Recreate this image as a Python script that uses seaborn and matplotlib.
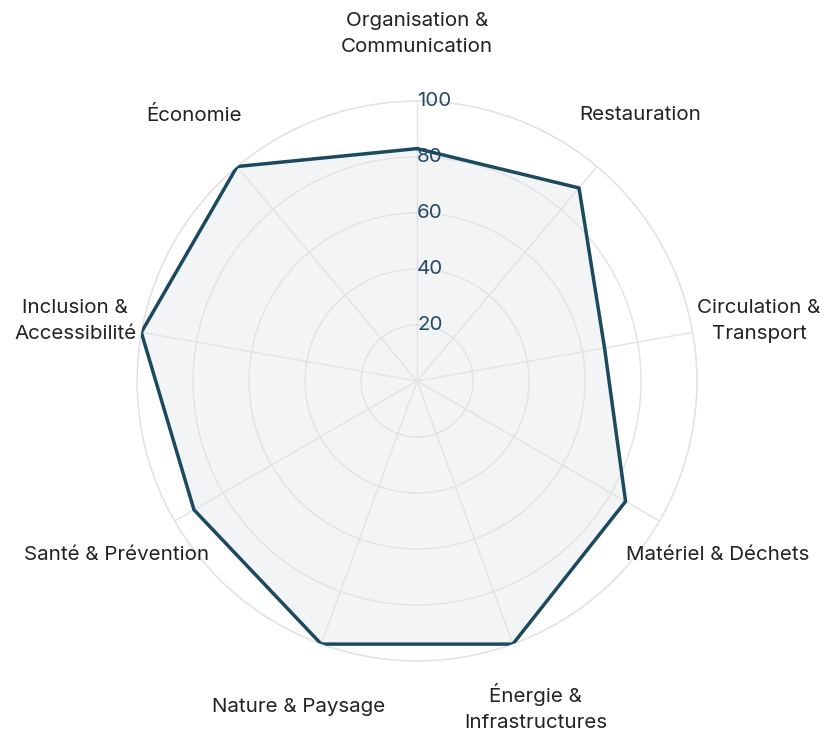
import numpy as np
import matplotlib
matplotlib.use("Agg")
import matplotlib.pyplot as plt
import seaborn as sns

categories = [
    "Organisation &\nCommunication",
    "Restauration",
    "Circulation &\nTransport",
    "Matériel & Déchets",
    "Énergie &\nInfrastructures",
    "Nature & Paysage",
    "Santé & Prévention",
    "Inclusion &\nAccessibilité",
    "Économie",
]
scores = [83, 90, 68, 86, 100, 100, 92, 100, 100]
radial_ticks = [20, 40, 60, 80, 100]

line_colour = "#1b4a5f"
fill_colour = "#f2f4f6"
grid_colour = "#e2e2e2"
tick_colour = "#264b63"

sns.set_theme(style="white")
plt.rcParams["font.family"] = ["Inter", "DejaVu Sans"]

fig = plt.figure(figsize=(8.26, 7.32), dpi=100)
ax = fig.add_axes([0.1659, 0.097, 0.678, 0.765], projection="polar")
ax.set_theta_offset(np.pi / 2)
ax.set_theta_direction(-1)

n = len(categories)
angles = np.linspace(0, 2 * np.pi, n, endpoint=False)
# close the polygon at 2*pi so every x value stays unique
theta = np.append(angles, 2 * np.pi)
r = np.append(scores, scores[0])

ax.fill(theta, r, color=fill_colour, zorder=1)
sns.lineplot(x=theta, y=r, sort=False, estimator=None, ax=ax,
             color=line_colour, linewidth=2.5, zorder=3)

ax.set_axisbelow(False)
ax.set_ylim(0, 100)
ax.set_yticks(radial_ticks)
ax.set_yticklabels([])
ax.set_xticks(angles)
ax.set_xticklabels([])
ax.grid(True, color=grid_colour, linewidth=1.0, zorder=2)
ax.spines["polar"].set_color(grid_colour)
ax.spines["polar"].set_linewidth(1.0)
ax.set_xlabel("")
ax.set_ylabel("")

for t in radial_ticks:
    ax.text(0, t, str(t), ha="left", va="center", fontsize=14.8,
            color=tick_colour, zorder=4)

for a, lab in zip(angles, categories):
    ax.text(a, 124.0, lab, ha="center", va="center", fontsize=14.8,
            color="#222222", linespacing=1.58)

fig.savefig("out.png", dpi=100)
